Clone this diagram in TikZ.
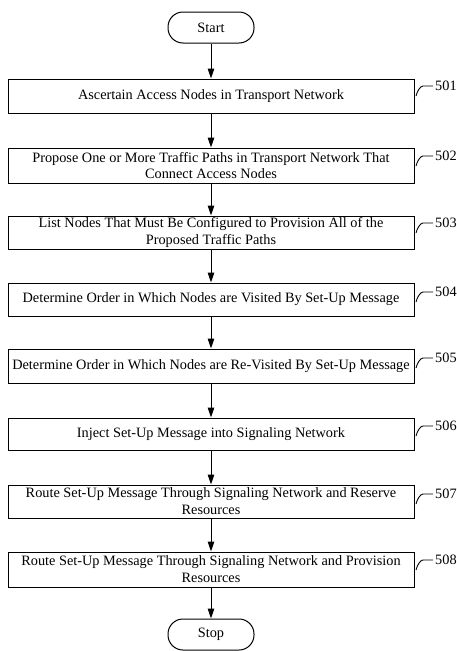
\documentclass[tikz,border=0pt]{standalone}
\usepackage{fontspec}
\setmainfont{Liberation Serif}
\usetikzlibrary{arrows.meta}
\begin{document}
\begin{tikzpicture}[x=1pt,y=-1pt,
  box/.style={draw,line width=1pt,minimum width=406pt,align=center,inner sep=0pt,font=\fontsize{14.3}{16.8}\selectfont},
  term/.style={draw,line width=1pt,rounded corners=15pt,minimum width=86pt,minimum height=31pt,inner sep=0pt,font=\fontsize{14.3}{16.8}\selectfont},
  lab/.style={anchor=west,inner sep=0pt,font=\fontsize{14.3}{16.8}\selectfont},
  flow/.style={line width=1pt,-{Triangle[length=10pt,width=6.5pt]}},
  lead/.style={line width=0.9pt}]
\useasboundingbox (0,0) rectangle (456,651);
\node[term] (start) at (211,27.5) {Start};
\node[box,minimum height=34pt] (b1) at (211,96) {Ascertain Access Nodes in Transport Network};
\node[box,minimum height=35pt] (b2) at (211,165.5) {Propose One or More Traffic Paths in Transport Network That\\Connect Access Nodes};
\node[box,minimum height=33pt] (b3) at (211,232.5) {List Nodes That Must Be Configured to Provision All of the\\Proposed Traffic Paths};
\node[box,minimum height=33pt] (b4) at (211,299.5) {Determine Order in Which Nodes are Visited By Set-Up Message};
\node[box,minimum height=34pt] (b5) at (211,366) {Determine Order in Which Nodes are Re-Visited By Set-Up Message};
\node[box,minimum height=32pt] (b6) at (211,434) {Inject Set-Up Message into Signaling Network};
\node[box,minimum height=33pt] (b7) at (211,501.5) {Route Set-Up Message Through Signaling Network and Reserve\\Resources};
\node[box,minimum height=35pt] (b8) at (211,569.5) {Route Set-Up Message Through Signaling Network and Provision\\Resources};
\node[term] (stop) at (211,634.5) {Stop};
\draw[flow] (start) -- (b1);
\draw[flow] (b1) -- (b2);
\draw[flow] (b2) -- (b3);
\draw[flow] (b3) -- (b4);
\draw[flow] (b4) -- (b5);
\draw[flow] (b5) -- (b6);
\draw[flow] (b6) -- (b7);
\draw[flow] (b7) -- (b8);
\draw[flow] (b8) -- (stop);
\foreach \n/\y/\t in {1/86/501,2/156/502,3/223/503,4/292/504,5/358/505,6/426/506,7/494/507,8/560/508}{
  \node[lab] (l\n) at (435,\y) {\t};
  \draw[lead] ([xshift=-2pt]l\n.west) -- ++(-10,0) .. controls +(-3,0) and +(1,-4) .. ++(-7,10);
}
\end{tikzpicture}
\end{document}
